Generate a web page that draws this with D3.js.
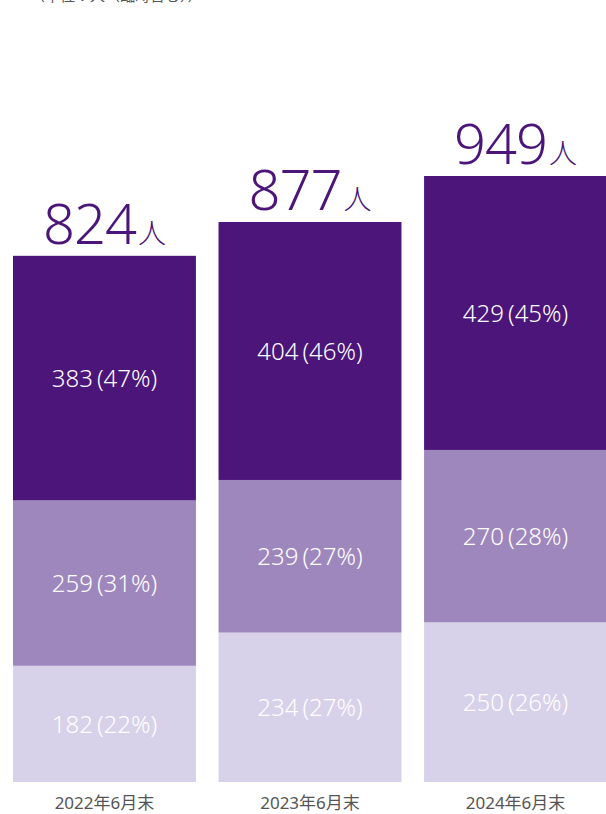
<!DOCTYPE html>
<html>
<head>
<meta charset="utf-8">
<script src="https://cdn.jsdelivr.net/npm/d3@7"></script>
<style>
  body { margin: 0; background: #fff; }
  #chart { width: 606px; height: 814px; overflow: hidden; }
  text { font-family: "Noto Sans", "Noto Sans CJK JP", sans-serif; }
</style>
</head>
<body>
<div id="chart"></div>
<script>
// data
const years = ["2022年6月末", "2023年6月末", "2024年6月末"];
const totals = [824, 877, 949];
const bottomVals = [182, 234, 250];
const bottomPct = [22, 27, 26];
const middleVals = [259, 239, 270];
const middlePct = [31, 27, 28];
const topVals = [383, 404, 429];
const topPct = [47, 46, 45];

const width = 606;
const height = 814;

const svg = d3.select("#chart")
    .append("svg")
    .attr("width", width)
    .attr("height", height);

// unit note, mostly cut off at the top edge
svg.append("text")
    .attr("x", 30)
    .attr("y", 1)
    .attr("font-size", 15)
    .attr("fill", "#555")
    .text("（単位：人（臨時含む））");

const xScale = d3.scaleBand()
    .domain(years)
    .range([13, 607])
    .paddingInner(0.11)
    .paddingOuter(0);

const yScale = d3.scaleLinear()
    .domain([0, 949])
    .range([782, 176]);

const colors = ["#d7d1e9", "#9e87bc", "#4b1579"];

const segments = [];
years.forEach((yr, i) => {
    const stack = [
        [bottomVals[i], bottomPct[i]],
        [middleVals[i], middlePct[i]],
        [topVals[i], topPct[i]]
    ];
    let base = 0;
    stack.forEach((s, k) => {
        segments.push({ year: yr, k: k, v: s[0], pct: s[1], y0: base, y1: base + s[0], total: totals[i] });
        base += s[0];
    });
});

// scale each stack so it reaches its total
segments.forEach(d => {
    const sum = segments.filter(s => s.year === d.year).reduce((a, s) => a + s.v, 0);
    d.y0 = d.y0 * d.total / sum;
    d.y1 = d.y1 * d.total / sum;
});

svg.selectAll(".seg")
    .data(segments)
    .enter()
    .append("rect")
    .attr("class", "seg")
    .attr("x", d => xScale(d.year))
    .attr("width", xScale.bandwidth())
    .attr("y", d => yScale(d.y1))
    .attr("height", d => yScale(d.y0) - yScale(d.y1))
    .attr("fill", d => colors[d.k]);

svg.selectAll(".segLabel")
    .data(segments)
    .enter()
    .append("text")
    .attr("class", "segLabel")
    .attr("x", d => xScale(d.year) + xScale.bandwidth() / 2)
    .attr("y", d => (yScale(d.y0) + yScale(d.y1)) / 2 + 9)
    .attr("text-anchor", "middle")
    .attr("font-size", 24)
    .attr("font-weight", 300)
    .attr("fill", "#fff")
    .text(d => d.v + "\u2009(" + d.pct + "%)");

// totals above bars
const totalText = svg.selectAll(".total")
    .data(years)
    .enter()
    .append("text")
    .attr("class", "total")
    .attr("x", d => xScale(d) + xScale.bandwidth() / 2)
    .attr("y", (d, i) => yScale(totals[i]) - 12)
    .attr("text-anchor", "middle")
    .attr("fill", "#4b1579")
    .attr("font-weight", 300);

totalText.append("tspan")
    .attr("font-size", 56)
    .attr("letter-spacing", -1)
    .text((d, i) => totals[i]);

totalText.append("tspan")
    .attr("font-size", 28)
    .attr("dx", 2)
    .text("人");

// x axis labels
svg.selectAll(".xLabel")
    .data(years)
    .enter()
    .append("text")
    .attr("class", "xLabel")
    .attr("x", d => xScale(d) + xScale.bandwidth() / 2)
    .attr("y", 809)
    .attr("text-anchor", "middle")
    .attr("font-size", 17)
    .attr("fill", "#555")
    .text(d => d);
</script>
</body>
</html>
